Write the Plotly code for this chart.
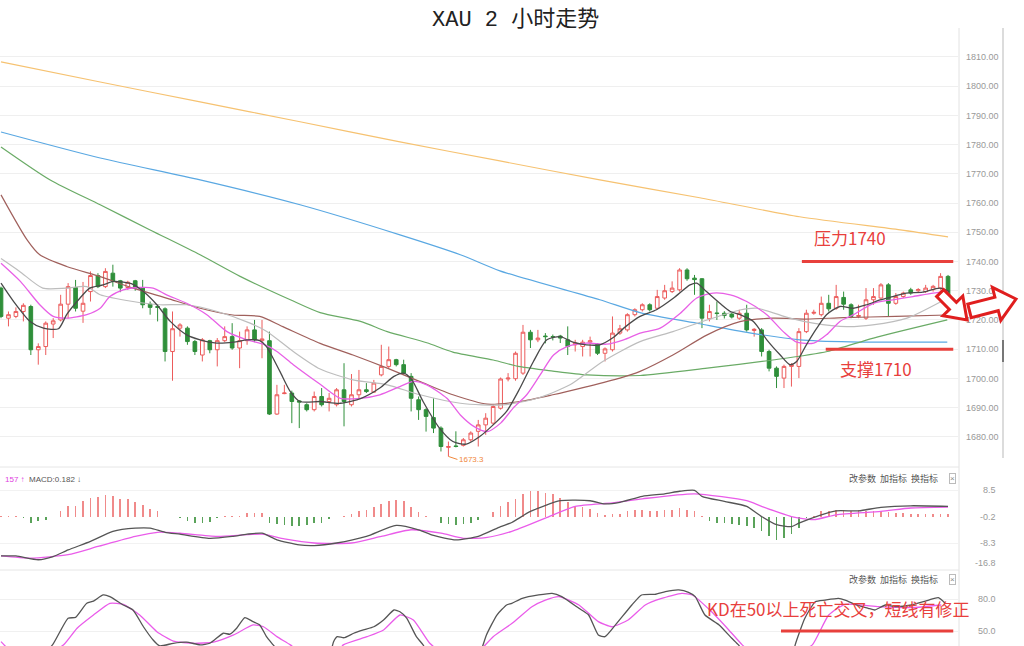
import plotly.graph_objects as go

W, H = 1024, 646

# ---------------- data ----------------
opens = [1730.9,1720.6,1721.2,1722.9,1724.6,1709.8,1710.9,1718.6,1720.0,1725.4,
         1731.1,1723.0,1729.7,1735.2,1731.4,1736.0,1733.4,1731.1,1733.4,1730.9,
         1725.4,1724.6,1723.8,1709.2,1717.2,1717.2,1712.6,1708.0,1712.9,1709.8,
         1712.9,1714.3,1710.4,1712.9,1716.6,1712.9,1712.9,1687.8,1694.8,1695.0,
         1692.3,1691.0,1689.3,1693.8,1692.1,1691.0,1696.1,1691.0,1694.4,1696.1,
         1695.3,1701.2,1704.1,1706.4,1704.7,1700.7,1692.7,1689.3,1686.6,1683.0,
         1676.4,1676.9,1677.1,1679.0,1681.9,1684.1,1684.7,1689.8,1699.8,1699.9,
         1701.8,1715.8,1713.2,1714.5,1714.3,1714.5,1713.2,1711.5,1710.9,1712.4,
         1711.7,1708.6,1709.8,1715.5,1716.6,1721.8,1723.5,1725.2,1724.0,1727.5,
         1729.7,1730.3,1737.1,1734.3,1734.1,1720.4,1722.4,1722.3,1722.0,1720.6,
         1722.3,1716.4,1716.6,1709.2,1703.5,1700.1,1704.1,1704.1,1716.0,1722.3,
         1721.8,1725.7,1724.0,1727.7,1725.2,1721.2,1720.6,1726.9,1727.5,1732.0,
         1725.7,1728.0,1730.3,1730.0,1729.7,1730.4,1730.9,1734.9]
highs = [1731.4,1722.9,1724.3,1725.7,1725.2,1712.0,1719.5,1720.6,1728.6,1732.6,
         1733.7,1733.0,1736.6,1736.0,1737.7,1738.9,1733.7,1733.4,1733.7,1733.7,
         1726.3,1725.2,1724.3,1722.9,1718.9,1717.8,1713.2,1713.8,1713.2,1713.8,
         1717.8,1718.9,1716.0,1717.8,1720.0,1720.0,1716.0,1697.8,1697.8,1695.8,
         1692.5,1691.5,1695.5,1696.7,1695.0,1696.7,1705.2,1701.5,1702.9,1698.4,
         1699.5,1711.5,1710.9,1706.7,1706.4,1701.8,1693.8,1689.8,1693.2,1683.6,
         1678.4,1681.9,1679.6,1681.9,1685.8,1688.1,1691.2,1700.3,1701.8,1709.2,
         1718.3,1716.6,1716.6,1715.5,1715.0,1714.9,1717.8,1713.2,1713.2,1714.3,
         1712.1,1710.6,1721.2,1718.3,1722.3,1724.0,1725.7,1725.7,1730.3,1732.0,
         1733.2,1737.7,1737.7,1735.4,1734.3,1725.2,1726.3,1723.0,1722.5,1723.5,
         1725.2,1717.2,1717.2,1709.8,1704.1,1704.7,1705.2,1717.2,1723.5,1723.5,
         1728.0,1728.6,1732.0,1729.7,1725.7,1725.2,1730.9,1730.9,1732.6,1732.6,
         1729.2,1729.7,1731.0,1730.9,1732.0,1732.0,1736.0,1735.4]
lows = [1720.6,1717.8,1720.6,1719.5,1708.0,1704.7,1708.0,1713.8,1719.5,1720.6,
        1722.9,1719.0,1726.3,1730.9,1730.9,1731.4,1729.5,1730.3,1730.0,1724.0,
        1721.8,1719.5,1705.8,1699.2,1714.3,1711.5,1708.0,1705.8,1708.6,1704.1,
        1712.4,1709.8,1703.5,1711.5,1712.4,1706.9,1687.5,1687.5,1694.6,1684.7,
        1683.0,1688.7,1688.7,1690.4,1688.7,1690.4,1683.6,1690.4,1693.2,1695.0,
        1695.0,1700.7,1703.5,1704.1,1701.2,1688.7,1685.8,1681.8,1681.3,1675.0,
        1673.3,1676.4,1676.7,1678.4,1676.7,1680.7,1684.1,1689.3,1699.0,1699.2,
        1701.2,1710.4,1712.4,1712.0,1713.0,1712.1,1708.0,1709.2,1707.5,1707.5,
        1708.0,1705.8,1709.2,1714.9,1716.0,1721.2,1722.9,1722.9,1723.5,1726.9,
        1729.2,1729.7,1733.4,1728.6,1717.2,1719.5,1720.0,1720.5,1720.5,1720.0,
        1716.0,1714.3,1707.5,1702.4,1696.7,1696.7,1697.2,1700.1,1715.5,1721.8,
        1721.2,1722.9,1723.5,1723.5,1720.6,1720.6,1720.0,1725.2,1726.9,1721.2,
        1725.2,1727.5,1728.6,1729.2,1729.2,1729.7,1730.3,1725.7]
closes = [1721.2,1721.8,1722.9,1725.0,1709.8,1710.9,1718.9,1719.7,1725.4,1731.4,
          1724.0,1725.7,1735.2,1731.4,1736.6,1733.2,1730.9,1732.9,1730.9,1725.2,
          1724.3,1724.3,1709.2,1717.0,1718.3,1712.6,1709.2,1713.2,1709.8,1712.9,
          1714.3,1710.4,1712.9,1716.6,1713.2,1713.5,1687.8,1694.4,1695.0,1692.1,
          1691.9,1689.3,1693.8,1691.0,1693.2,1696.1,1692.1,1694.4,1696.1,1695.5,
          1698.4,1704.1,1706.4,1704.7,1701.8,1693.2,1689.3,1687.0,1683.0,1676.7,
          1676.7,1676.7,1679.0,1681.3,1684.1,1686.4,1690.4,1699.8,1700.1,1708.6,
          1715.8,1713.2,1713.8,1714.3,1714.2,1713.8,1710.9,1712.1,1712.4,1712.9,
          1708.6,1710.1,1715.5,1717.0,1721.8,1723.5,1725.2,1723.5,1728.0,1730.0,
          1730.9,1737.1,1734.1,1733.8,1720.6,1722.9,1722.2,1721.5,1721.0,1722.3,
          1716.6,1716.8,1709.2,1703.5,1700.7,1704.1,1704.7,1716.0,1722.3,1722.6,
          1725.7,1723.8,1728.0,1725.4,1721.2,1721.5,1726.9,1728.0,1732.0,1725.7,
          1728.0,1729.2,1729.2,1730.4,1730.9,1731.5,1734.9,1726.3]
bars = list(range(len(closes)))

# moving averages: (bar position, price)
ma5 = [(0,1732.6),(1.7,1726.3),(3.9,1719.5),(5.7,1717.2),(7.7,1717.0),(8.8,1721.8),(10.6,1727.5),
       (11.9,1730.9),(13.7,1732.0),(15.1,1733.2),(17.7,1732.2),(19.1,1729.7),(20.9,1725.2),(22.7,1719.5),
       (24.9,1714.9),(26.7,1713.2),(28.9,1712.1),(31.2,1712.4),(33,1713.2),(34.7,1712.9),(35.6,1710.9),
       (37.4,1702.4),(38.8,1695.5),(40.1,1692.1),(42.8,1692.1),(45.5,1691.5),(48.3,1693.2),(50.8,1696.7),
       (52.7,1700.7),(54,1701.8),(55.1,1699.5),(56.6,1692.1),(58.8,1683.0),(60.6,1678.4),(62.4,1677.5),
       (64.2,1680.1),(66,1684.1),(67.8,1688.7),(69.6,1696.7),(71.4,1705.8),(73.2,1713.2),(75,1714.3),
       (76.7,1712.4),(78.5,1711.5),(80.3,1711.5),(82,1713.8),(83.8,1717.8),(85.7,1721.2),(87.9,1723.5),
       (90.2,1727.5),(92.4,1732.0),(93.3,1732.6),(94.6,1729.7),(96.4,1725.7),(97.8,1722.9),(99.1,1721.8),
       (100.9,1719.5),(102.7,1713.2),(104.5,1708.0),(105.8,1704.7),(106.7,1705.8),(108,1711.5),
       (109.4,1717.2),(110.7,1721.8),(112.5,1724.6),(114.3,1724.0),(116.1,1725.2),(117.9,1726.9),
       (119.6,1728.0),(121.4,1729.2),(123.6,1729.5),(125.9,1730.9),(127.2,1729.7)]
ma10 = [(0,1739.4),(2.6,1733.2),(5.2,1725.2),(7,1721.2),(8.8,1720.6),(11.5,1721.8),(13.3,1724.0),
        (14.6,1728.0),(16.4,1730.3),(18.6,1731.1),(20.4,1730.9),(22.2,1728.6),(24.9,1725.7),(27.6,1721.8),
        (30.3,1716.0),(33,1713.2),(35.2,1711.7),(37,1709.2),(39.2,1704.7),(42.8,1698.0),(45.5,1693.2),
        (48.2,1693.2),(50.8,1694.4),(53.5,1697.2),(55.3,1699.0),(57.1,1697.8),(59.8,1693.2),(61.6,1687.5),
        (63.4,1683.6),(65.2,1681.8),(67,1684.7),(68.7,1689.9),(70.5,1694.4),(72.3,1701.2),(74.1,1708.0),
        (75.9,1710.9),(78.5,1712.1),(81.2,1711.7),(83.5,1713.2),(85.7,1715.5),(88.4,1717.2),(91.1,1722.3),
        (93.3,1727.5),(95.5,1729.2),(97.8,1728.6),(100,1726.3),(102.7,1721.8),(104.9,1716.0),(106.7,1712.4),
        (109,1712.1),(110.7,1714.9),(112.5,1719.5),(114.3,1721.8),(117,1725.7),(119.6,1726.9),
        (122.3,1728.0),(125,1729.2),(127,1729.7)]
ma20 = [(0,1741.0),(2.5,1736.6),(5.6,1730.9),(8.8,1730.9),(11.5,1731.4),(13.3,1728.6),(17.7,1726.3),
        (21.3,1725.2),(24.9,1725.2),(29,1722.9),(33.4,1718.9),(35.7,1716.0),(39.2,1709.2),(42.8,1703.2),
        (47.2,1699.5),(51.8,1697.8),(56.2,1694.4),(61.6,1691.5),(67.3,1690.9),(71.9,1693.2),(76.3,1697.8),
        (80.7,1705.8),(85.7,1712.6),(90.1,1716.0),(94.7,1720.0),(99.1,1723.4),(101.4,1724.0),(105.8,1720.6),
        (108.9,1718.9),(113.4,1717.7),(116.9,1718.3),(121.5,1720.6),(126.9,1727.4)]
ma30 = [(0,1762.8),(3.5,1747.4),(5.2,1742.3),(8.8,1738.3),(13.3,1734.8),(17.7,1730.9),(22.3,1727.4),
        (26.7,1724.0),(31.1,1721.7),(34.7,1721.2),(37.8,1717.7),(42.8,1712.0),(47.2,1708.0),(51.8,1703.5),
        (56.2,1698.9),(60.6,1694.4),(65.2,1691.2),(69.6,1692.1),(74,1694.4),(78.6,1697.2),(83,1700.1),
        (85.7,1702.4),(90.1,1708.0),(94.7,1714.9),(99.1,1719.4),(103.5,1720.6),(108,1720.3),(113,1720.8),
        (120,1721.2),(126.9,1721.7)]
ma60 = [(0,1779.2),(6.6,1767.9),(13.3,1759.4),(20,1750.8),(26.7,1742.3),(32,1735.0),(38.8,1726.9),
        (42.8,1722.5),(48.2,1719.5),(51.8,1716.0),(57.1,1712.2),(60.6,1709.0),(66,1706.3),(69.6,1704.0),
        (74,1702.5),(78.6,1701.2),(85.7,1701.0),(94.7,1703.5),(103.5,1706.3),(110.8,1709.2),(117,1713.8),
        (126.9,1720.0)]
ma120 = [(0,1784.3),(13.3,1775.4),(26.7,1767.9),(40.1,1759.4),(53.5,1749.1),(61.6,1742.3),(66.9,1736.8),
         (80.3,1726.9),(85.7,1722.5),(93.7,1718.7),(100.4,1715.6),(107.1,1713.2),(113.9,1712.5),(126.9,1712.4)]
ma240 = [(0,1808.3),(13.3,1801.4),(26.7,1794.6),(40.1,1787.8),(53.5,1780.9),(66.9,1774.4),(80.3,1767.9),
         (93.7,1761.8),(107.1,1755.3),(120.6,1750.8),(127,1748.4)]

# MACD
macd_hist = [0.2,0.2,0.2,-0.3,-1.8,-1.3,-1.1,-0.2,1.9,3.5,
             3.5,4.9,6.1,6.3,6.9,6.7,5.8,5.6,4.8,3.8,
             2.4,1.9,-0.2,-0.2,-0.3,-1.3,-1.8,-1.8,-1.5,-0.3,
             0.2,0.3,0.4,1.1,1.1,1.1,-1.8,-2.3,-2.5,-2.9,
             -2.9,-2.5,-2.1,-1.8,-0.7,-0.2,0.3,0.85,1.7,2.1,
             3.0,4.0,5.1,5.3,5.1,3.0,1.4,0.2,-0.2,-1.8,
             -2.3,-2.5,-2.3,-1.8,-1.1,-0.2,1.4,3.5,4.8,5.8,
             7.2,8.3,8.3,7.7,7.2,6.1,4.6,3.5,3.0,2.4,
             1.1,0.6,0.8,0.8,1.7,2.1,2.1,1.9,1.9,2.1,
             2.1,2.8,2.1,1.7,0.3,-1.3,-1.8,-2.1,-2.3,-2.5,
             -2.9,-3.4,-4.4,-6.0,-7.4,-6.6,-5.5,-3.4,-0.3,0.3,
             1.7,1.9,2.1,2.1,1.9,2.1,1.9,1.7,1.9,1.4,
             1.1,1.1,0.85,0.85,0.85,0.85,0.85,0.8]
macd_dif = [(0,-12.4),(2,-12.4),(5,-13.6),(7,-12.6),(9,-10.5),(12,-7.8),(15,-4.6),(18,-3.6),(20,-3.6),
            (22,-4.9),(24,-5.5),(28,-6.8),(31,-6.2),(33,-5.5),(35,-5.2),(37,-7.3),(40,-8.9),(42,-9.1),
            (45,-8.3),(49,-6.2),(53,-2.7),(56,-4.1),(58,-5.9),(61,-7.3),(64,-6.2),(67,-3.1),(68.5,-1.8),
            (71,1.7),(75,5.1),(79,5.1),(81,4.1),(83,4.6),(86,6.5),(89,7.3),(91,8.1),(93,8.4),(94,6.5),
            (97,4.9),(100,3.3),(102,0.1),(104,-2.5),(106,-3.1),(107,-2.0),(110,0.65),(112,1.9),(115,1.9),
            (118,3.0),(122,3.5),(127,3.3)]
macd_dea = [(0,-12.4),(4,-13.1),(9,-12.0),(13,-9.4),(18,-6.2),(21,-4.9),(24,-5.2),(29,-6.2),(35,-5.5),
            (38,-7.0),(42,-8.3),(47,-8.3),(51,-6.2),(55,-4.1),(59,-5.2),(62,-6.8),(65,-6.6),(68.5,-4.6),
            (73,-0.4),(77,3.3),(82,4.4),(86,5.7),(93,7.3),(100,5.1),(102,3.3),(106,0.1),(109,-0.9),
            (112,0.65),(118,1.7),(122,2.8),(127,3.1)]

# KD
kd_k = [(0,25),(3,18),(5,22),(7,38),(9,62),(10,62.8),(11.5,76),(12.4,78),(13.7,83.8),(14.6,82.3),
        (16.4,74.4),(17.7,69.7),(19.1,54),(20.4,41.6),(21.3,36),(23.1,38.5),(24.9,39.5),(26.7,37),
        (28,38.5),(29.8,47.9),(30.7,47),(31.6,52.6),(32.7,62.6),(33.8,58.8),(34.7,55.7),(35.6,44.7),
        (36.5,37),(38.5,20),(40,12),(42,10),(44,25),(44.6,40),(45.1,44.7),(46,43.7),(47.3,47.9),
        (48.6,51),(50,54),(51.3,60.3),(52.7,69.7),(53.5,68),(54.4,62),(55.7,44.7),(56.6,37),(58,20),
        (60,10),(62,12),(64,25),(65.1,46.3),(66.5,65),(67.8,74.4),(68.5,76),(69.9,80.6),(72.1,83.8),
        (73.9,85.3),(75.2,82.3),(77.5,71.3),(78.8,65),(80.1,46.3),(81,44.7),(82.4,55.7),(84.6,74.4),
        (85.9,83.8),(87.7,84.4),(89.1,87),(90.9,88.5),(92.2,86.3),(93.1,82.3),(94.4,65),(96.3,55.7),
        (98,43.2),(98.9,37),(100,25),(102,15),(104,10),(106,20),(106.5,37),(107.8,62),(109.2,77.5),
        (110.5,79),(112.3,80.6),(113.2,79),(115,73.7),(116.3,71.3),(117.2,69.7),(118.6,74.4),
        (119.9,72.8),(122.1,74.4),(124.4,79),(125.7,81.2),(126.6,76)]
kd_d = [(0,40),(1,33),(3,25),(6,28),(8.4,37),(10.2,52.6),(12.4,65),(14.6,76),(16.4,75),(18.6,65),
        (20.9,49.4),(23.1,40.6),(25.8,38.5),(28.5,39.5),(31.2,46.3),(33.8,55.7),(35.2,54),(37,44.7),
        (38.8,37),(41,25),(43,22),(45,28),(45.9,37),(49.1,44.7),(51.3,51),(53.5,65),(55.3,60.3),
        (57.5,38.5),(60,25),(62,20),(64,30),(66,44.7),(68.5,57),(71.2,72.8),(73,79),(74.8,82.3),
        (77.5,74.4),(80.1,58.8),(81.9,54),(84.1,60.3),(86.4,74.4),(88.6,80.6),(91.3,85.3),(92.7,83.8),
        (95.3,68),(97.6,51),(99.4,37),(101,28),(103,20),(105,18),(107,30),(108.8,37),(111,65),
        (113.2,75),(117.7,72.8),(122.1,71.9),(126.1,74.4)]

price_ticks = [1680, 1690, 1700, 1710, 1720, 1730, 1740, 1750, 1760, 1770, 1780, 1790, 1800, 1810]
macd_tick_text = ["8.5", "-0.2", "-8.3", "-16.8"]
macd_tick_vals = [8.5, -0.2, -8.3, -14.6]
kd_ticks = [80, 50]
levels = {"压力1740": 1740, "支撑1710": 1710}
low_label = (60, 1673.3)

# ---------------- styling ----------------
RED = "#ec5b5b"
GREEN = "#2f8f3a"
ANN_RED = "#e8403c"
CJK = "Noto Sans CJK SC, Noto Sans, sans-serif"

def px(x):
    return x / W

def py(y):
    return 1 - y / H

def unzip(pairs):
    return [p[0] for p in pairs], [p[1] for p in pairs]

fig = go.Figure()

fig.add_trace(go.Candlestick(
    x=bars, open=opens, high=highs, low=lows, close=closes,
    increasing=dict(line=dict(color=RED, width=1), fillcolor="white"),
    decreasing=dict(line=dict(color=GREEN, width=1), fillcolor=GREEN),
    whiskerwidth=0, showlegend=False, hoverinfo="skip", xaxis="x", yaxis="y"))

for pairs, color, wdt in [(ma240, "#f6c271", 1.2), (ma120, "#5aa8e2", 1.2), (ma60, "#6aab66", 1.2),
                          (ma30, "#a0605c", 1.2), (ma20, "#bdbdbd", 1.2), (ma10, "#e860e6", 1.3),
                          (ma5, "#4a4a4a", 1.3)]:
    xs, ys = unzip(pairs)
    fig.add_trace(go.Scatter(x=xs, y=ys, mode="lines",
                             line=dict(color=color, width=wdt, shape="spline", smoothing=0.7),
                             showlegend=False, hoverinfo="skip", xaxis="x", yaxis="y"))

fig.add_trace(go.Bar(x=bars, y=macd_hist,
                     marker=dict(color=["#f08a8a" if v >= 0 else "#5aa35a" for v in macd_hist], line_width=0),
                     width=0.22, showlegend=False, hoverinfo="skip", xaxis="x", yaxis="y2"))
for pairs, color in [(macd_dea, "#ea5cea"), (macd_dif, "#555555")]:
    xs, ys = unzip(pairs)
    fig.add_trace(go.Scatter(x=xs, y=ys, mode="lines",
                             line=dict(color=color, width=1.3, shape="spline", smoothing=0.6),
                             showlegend=False, hoverinfo="skip", xaxis="x", yaxis="y2"))

for pairs, color in [(kd_d, "#ea5cea"), (kd_k, "#555555")]:
    xs, ys = unzip(pairs)
    fig.add_trace(go.Scatter(x=xs, y=ys, mode="lines",
                             line=dict(color=color, width=1.3, shape="spline", smoothing=0.5),
                             showlegend=False, hoverinfo="skip", xaxis="x", yaxis="y3"))

x_left = -1 / 7.457
x_right = 957 / 7.457

shapes = []
# level lines
shapes.append(dict(type="line", xref="x", yref="y", x0=107.4, x1=127.7, y0=levels["压力1740"],
                   y1=levels["压力1740"], line=dict(color=ANN_RED, width=3)))
shapes.append(dict(type="line", xref="x", yref="y", x0=110.6, x1=127.7, y0=levels["支撑1710"],
                   y1=levels["支撑1710"], line=dict(color=ANN_RED, width=3)))
shapes.append(dict(type="line", xref="x", yref="y3", x0=104.6, x1=127.7, y0=50, y1=50,
                   line=dict(color=ANN_RED, width=3)))
# panel separators / frame
shapes.append(dict(type="line", xref="paper", yref="paper", x0=px(959), x1=px(959), y0=py(28), y1=py(646),
                   line=dict(color="#e2e2e2", width=1)))
for yy in (467, 570):
    shapes.append(dict(type="line", xref="paper", yref="paper", x0=0, x1=px(959), y0=py(yy), y1=py(yy),
                       line=dict(color="#e6e6e6", width=1)))
shapes.append(dict(type="line", xref="paper", yref="paper", x0=px(1003), x1=px(1003), y0=py(28), y1=py(458),
                   line=dict(color="#dcdcdc", width=2)))
shapes.append(dict(type="line", xref="paper", yref="paper", x0=px(1003), x1=px(1003), y0=py(340), y1=py(362),
                   line=dict(color="#777777", width=2)))

def arrow_path(pts):
    s = "M " + " L ".join(f"{px(a):.5f},{py(b):.5f}" for a, b in pts) + " Z"
    return s

arrow1 = [(967, 320), (962.8, 296), (956.4, 302.4), (943.6, 289.6), (936.6, 296.6), (949.4, 309.4), (943, 315.8)]
arrow2 = [(1016, 299), (992.4, 287.4), (994.9, 297.1), (967.8, 304.1), (971.2, 317.7), (998.3, 310.7), (1000.8, 320.4)]
for pts in (arrow1, arrow2):
    shapes.append(dict(type="path", xref="paper", yref="paper", path=arrow_path(pts),
                       fillcolor="white", line=dict(color="#e01e1e", width=3)))

annotations = []
annotations.append(dict(text="XAU 2 小时走势", x=px(515), y=py(20), xref="paper", yref="paper",
                        xanchor="center", yanchor="middle", showarrow=False,
                        font=dict(family="Liberation Mono, Noto Sans CJK SC", size=22, color="#222")))
annotations.append(dict(text="压力1740", x=113.9, y=1748.1, xref="x", yref="y", showarrow=False,
                        xanchor="center", yanchor="middle",
                        font=dict(family=CJK, size=17, color=ANN_RED)))
annotations.append(dict(text="支撑1710", x=117.3, y=1703.3, xref="x", yref="y", showarrow=False,
                        xanchor="center", yanchor="middle",
                        font=dict(family=CJK, size=17, color=ANN_RED)))
annotations.append(dict(text="KD在50以上死亡交叉，短线有修正", x=px(838), y=py(608), xref="paper", yref="paper",
                        xanchor="center", yanchor="middle", showarrow=False,
                        font=dict(family=CJK, size=17, color=ANN_RED)))
annotations.append(dict(text="1673.3", x=low_label[0], y=low_label[1], xref="x", yref="y",
                        showarrow=True, arrowhead=0, arrowwidth=1, arrowcolor="#f0883c", ax=9, ay=3,
                        xanchor="left", yanchor="middle",
                        font=dict(family="Liberation Sans", size=8, color="#f0883c")))
annotations.append(dict(text='<span style="color:#e040e0">157 ↑</span>  <span style="color:#555">MACD:0.182 ↓</span>',
                        x=px(3), y=py(479), xref="paper", yref="paper", xanchor="left", yanchor="middle",
                        showarrow=False, font=dict(family="Liberation Sans", size=8)))
for yy in (478, 579):
    annotations.append(dict(text="改参数  加指标  换指标", x=px(940), y=py(yy), xref="paper", yref="paper",
                            xanchor="right", yanchor="middle", showarrow=False,
                            font=dict(family=CJK, size=9, color="#555")))
    annotations.append(dict(text="×", x=px(952), y=py(yy), xref="paper", yref="paper", showarrow=False,
                            xanchor="center", yanchor="middle",
                            bordercolor="#bbbbbb", borderwidth=1, borderpad=0,
                            font=dict(family="Liberation Sans", size=8, color="#888")))
for t, v in zip(macd_tick_text, macd_tick_vals):
    annotations.append(dict(text=t, x=px(998), y=v, xref="paper", yref="y2", xanchor="right",
                            yanchor="middle", showarrow=False,
                            font=dict(family="Liberation Sans", size=9, color="#999")))
for v in kd_ticks:
    annotations.append(dict(text=f"{v:.1f}", x=px(998), y=v, xref="paper", yref="y3", xanchor="right",
                            yanchor="middle", showarrow=False,
                            font=dict(family="Liberation Sans", size=9, color="#999")))

fig.update_layout(
    width=W, height=H, autosize=False,
    margin=dict(l=0, r=0, t=0, b=0),
    paper_bgcolor="white", plot_bgcolor="white",
    showlegend=False, bargap=0,
    xaxis=dict(domain=[0, px(958)], range=[x_left, x_right], visible=False,
               rangeslider=dict(visible=False), anchor="y"),
    yaxis=dict(domain=[py(462), py(30)], range=[1671.4, 1819.2], side="right", anchor="x",
               tickvals=price_ticks, ticktext=[f"{v:.2f}" for v in price_ticks],
               tickfont=dict(family="Liberation Sans", size=9, color="#999"),
               showgrid=True, gridcolor="#efefef", zeroline=False, showline=False, ticks="",
               ticklabelstandoff=7),
    yaxis2=dict(domain=[py(568), py(467)], range=[-16.22, 15.79], side="right", anchor="x",
                tickvals=[8.5, -8.3], showticklabels=False, showgrid=True, gridcolor="#f2f2f2",
                zeroline=False, showline=False, ticks=""),
    yaxis3=dict(domain=[0, py(573)], range=[35.94, 104.4], side="right", anchor="x",
                tickvals=kd_ticks, showticklabels=False, showgrid=True, gridcolor="#f0f0f0",
                zeroline=False, showline=False, ticks=""),
    shapes=shapes, annotations=annotations,
)

fig.write_html("out.html",
               config={"displayModeBar": False, "staticPlot": True},
               post_script="document.body.style.margin='0';document.body.style.padding='0';"
                           "document.documentElement.style.overflow='hidden';")
